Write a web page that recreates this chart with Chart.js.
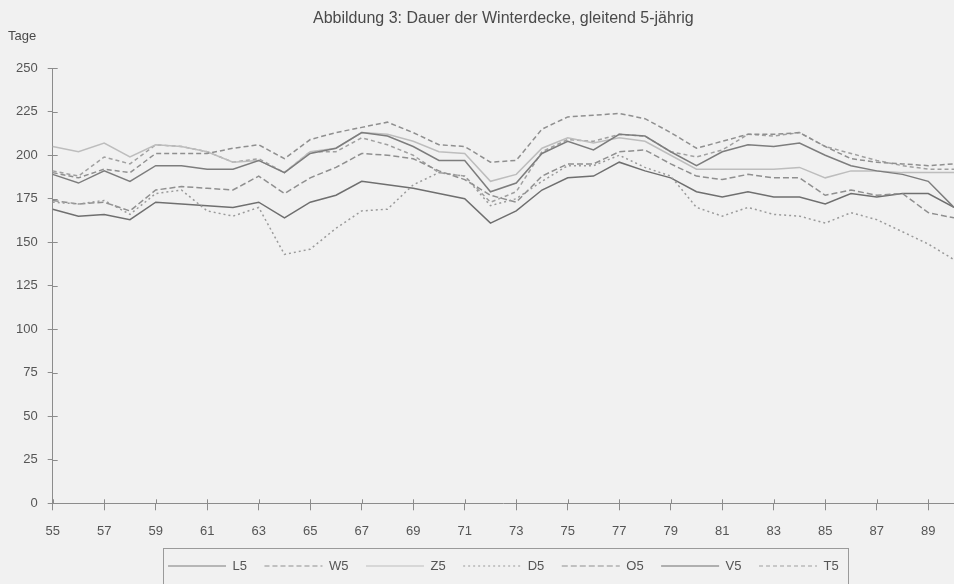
<!DOCTYPE html>
<html>
<head>
<meta charset="utf-8">
<script src="https://cdn.jsdelivr.net/npm/chart.js@4.4.1/dist/chart.umd.min.js"></script>
<style>
  html, body { margin: 0; padding: 0; background: #f1f1f1; overflow: hidden; }
  #wrap { width: 954px; height: 584px; }
</style>
</head>
<body>
<div id="wrap"><canvas id="chart" width="954" height="584"></canvas></div>
<script>
// Years 1955-1990 (two digits, as in the original)
var years = ["55", "56", "57", "58", "59", "60", "61", "62", "63", "64", "65", "66",
  "67", "68", "69", "70", "71", "72", "73", "74", "75", "76", "77", "78",
  "79", "80", "81", "82", "83", "84", "85", "86", "87", "88", "89", "90"];

// Dauer der Winterdecke in Tagen, gleitend 5-jaehrig
var L5 = [189, 184, 191, 185, 194, 194, 192, 192, 197, 190, 201, 204, 213, 211, 205, 197, 197, 179,
  184, 201, 208, 203, 212, 211, 202, 194, 202, 206, 205, 207, 200, 194, 191, 189, 185, 170];
var W5 = [190, 187, 192, 190, 201, 201, 201, 204, 206, 198, 209, 213, 216, 219, 213, 206, 205, 196,
  197, 215, 222, 223, 224, 221, 213, 204, 208, 212, 212, 213, 205, 198, 196, 195, 194, 195];
var Z5 = [205, 202, 207, 199, 206, 205, 202, 196, 197, 190, 202, 204, 213, 212, 208, 202, 201, 185,
  189, 204, 210, 207, 210, 208, 200, 192, 192, 192, 192, 193, 187, 191, 191, 190, 190, 190];
var D5 = [173, 172, 174, 166, 178, 180, 168, 165, 170, 143, 146, 158, 168, 169, 183, 190, 188, 171,
  175, 185, 194, 194, 200, 193, 188, 170, 165, 170, 166, 165, 161, 167, 163, 156, 149, 140];
var O5 = [174, 172, 173, 168, 180, 182, 181, 180, 188, 178, 187, 193, 201, 200, 198, 191, 186, 177,
  173, 188, 195, 195, 202, 203, 195, 188, 186, 189, 187, 187, 177, 180, 177, 178, 167, 164];
var V5 = [169, 165, 166, 163, 173, 172, 171, 170, 173, 164, 173, 177, 185, 183, 181, 178, 175, 161,
  168, 180, 187, 188, 196, 191, 187, 179, 176, 179, 176, 176, 172, 178, 176, 178, 178, 170];
var T5 = [191, 188, 199, 195, 206, 205, 202, 196, 198, 190, 202, 202, 210, 206, 200, 190, 188, 173,
  179, 202, 209, 208, 212, 211, 202, 199, 203, 212, 211, 213, 205, 201, 197, 194, 192, 192];

var FONT = "'Liberation Sans', Arial, sans-serif";
var AXIS = "#8c8c8c";
var TEXT = "#555555";

// small ticks inside the plot + frame round the legend
var extras = {
  id: "extras",
  afterDraw: function (chart) {
    var ctx = chart.ctx;
    var xs = chart.scales.x, ys = chart.scales.y;
    ctx.save();
    ctx.strokeStyle = AXIS;
    ctx.lineWidth = 1;
    ctx.beginPath();
    ys.ticks.forEach(function (t, i) {
      var py = Math.round(ys.getPixelForTick(i)) + 0.5;
      ctx.moveTo(ys.right, py);
      ctx.lineTo(ys.right + 5, py);
    });
    xs.ticks.forEach(function (t, i) {
      if (i % 2) return;
      var px = Math.round(xs.getPixelForTick(i)) + 0.5;
      ctx.moveTo(px, xs.top);
      ctx.lineTo(px, xs.top - 4);
    });
    ctx.stroke();

    var lg = chart.legend, hb = lg.legendHitBoxes;
    if (hb && hb.length) {
      var last = hb[hb.length - 1];
      var left = Math.round(hb[0].left - 5) + 0.5;
      var right = Math.round(last.left + last.width + 9) + 0.5;
      var top = Math.round(lg.top + 6) + 0.5;
      ctx.strokeStyle = "#9a9a9a";
      ctx.strokeRect(left, top, right - left, 100);
    }
    ctx.restore();
  }
};

function line(label, data, color, dash, width) {
  return {
    label: label,
    data: data,
    borderColor: color,
    backgroundColor: color,
    borderWidth: width || 1.5,
    borderDash: dash,
    pointRadius: 0,
    tension: 0,
    fill: false
  };
}

new Chart(document.getElementById("chart"), {
  type: "line",
  data: {
    labels: years,
    datasets: [
      line("L5", L5, "#7d7d7d", []),
      line("W5", W5, "#8f8f8f", [5, 3]),
      line("Z5", Z5, "#bdbdbd", []),
      line("D5", D5, "#9a9a9a", [2, 3]),
      line("O5", O5, "#8f8f8f", [6, 3]),
      line("V5", V5, "#6f6f6f", []),
      line("T5", T5, "#a0a0a0", [4, 3])
    ]
  },
  options: {
    responsive: false,
    animation: false,
    layout: { padding: { left: 8, right: 0, top: 0, bottom: 1.5 } },
    plugins: {
      title: {
        display: true,
        text: "Abbildung 3: Dauer der Winterdecke, gleitend 5-jährig",
        fullSize: false,
        color: "#4a4a4a",
        font: { family: FONT, size: 16, weight: "normal" },
        padding: { top: 9, bottom: 0 }
      },
      subtitle: {
        display: true,
        text: "Tage",
        align: "start",
        color: "#4a4a4a",
        font: { family: FONT, size: 13 },
        padding: { top: 0, bottom: 24.4 }
      },
      legend: {
        position: "bottom",
        fullSize: false,
        labels: {
          usePointStyle: true,
          pointStyle: "line",
          pointStyleWidth: 58,
          padding: 17.5,
          color: TEXT,
          font: { family: FONT, size: 13 },
          // keep the dash pattern of each line in the legend sample
          generateLabels: function (chart) {
            var items = Chart.defaults.plugins.legend.labels.generateLabels(chart);
            items.forEach(function (it) {
              var ds = chart.data.datasets[it.datasetIndex];
              it.lineDash = ds.borderDash;
              it.strokeStyle = ds.borderColor;
              it.lineWidth = 1.2;
            });
            return items;
          }
        }
      },
      tooltip: { enabled: false }
    },
    scales: {
      x: {
        offset: false,
        border: { color: AXIS, width: 1 },
        grid: {
          drawOnChartArea: false,
          tickLength: 7,
          color: function (c) { return c.index % 2 ? "rgba(0,0,0,0)" : AXIS; }
        },
        ticks: {
          autoSkip: false,
          maxRotation: 0,
          padding: 13,
          color: TEXT,
          font: { family: FONT, size: 13 },
          callback: function (val, i) { return i % 2 ? "" : this.getLabelForValue(val); }
        },
        afterFit: function (s) {
          s.height = 38.7;
          s.paddingRight = 0;
        }
      },
      y: {
        min: 0,
        max: 250,
        border: { color: AXIS, width: 1 },
        grid: { drawOnChartArea: false, tickLength: 5, color: AXIS },
        ticks: {
          stepSize: 25,
          padding: 10,
          color: TEXT,
          font: { family: FONT, size: 13 }
        },
        afterFit: function (s) { s.width = 44.7; }
      }
    }
  },
  plugins: [extras]
});
</script>
</body>
</html>
